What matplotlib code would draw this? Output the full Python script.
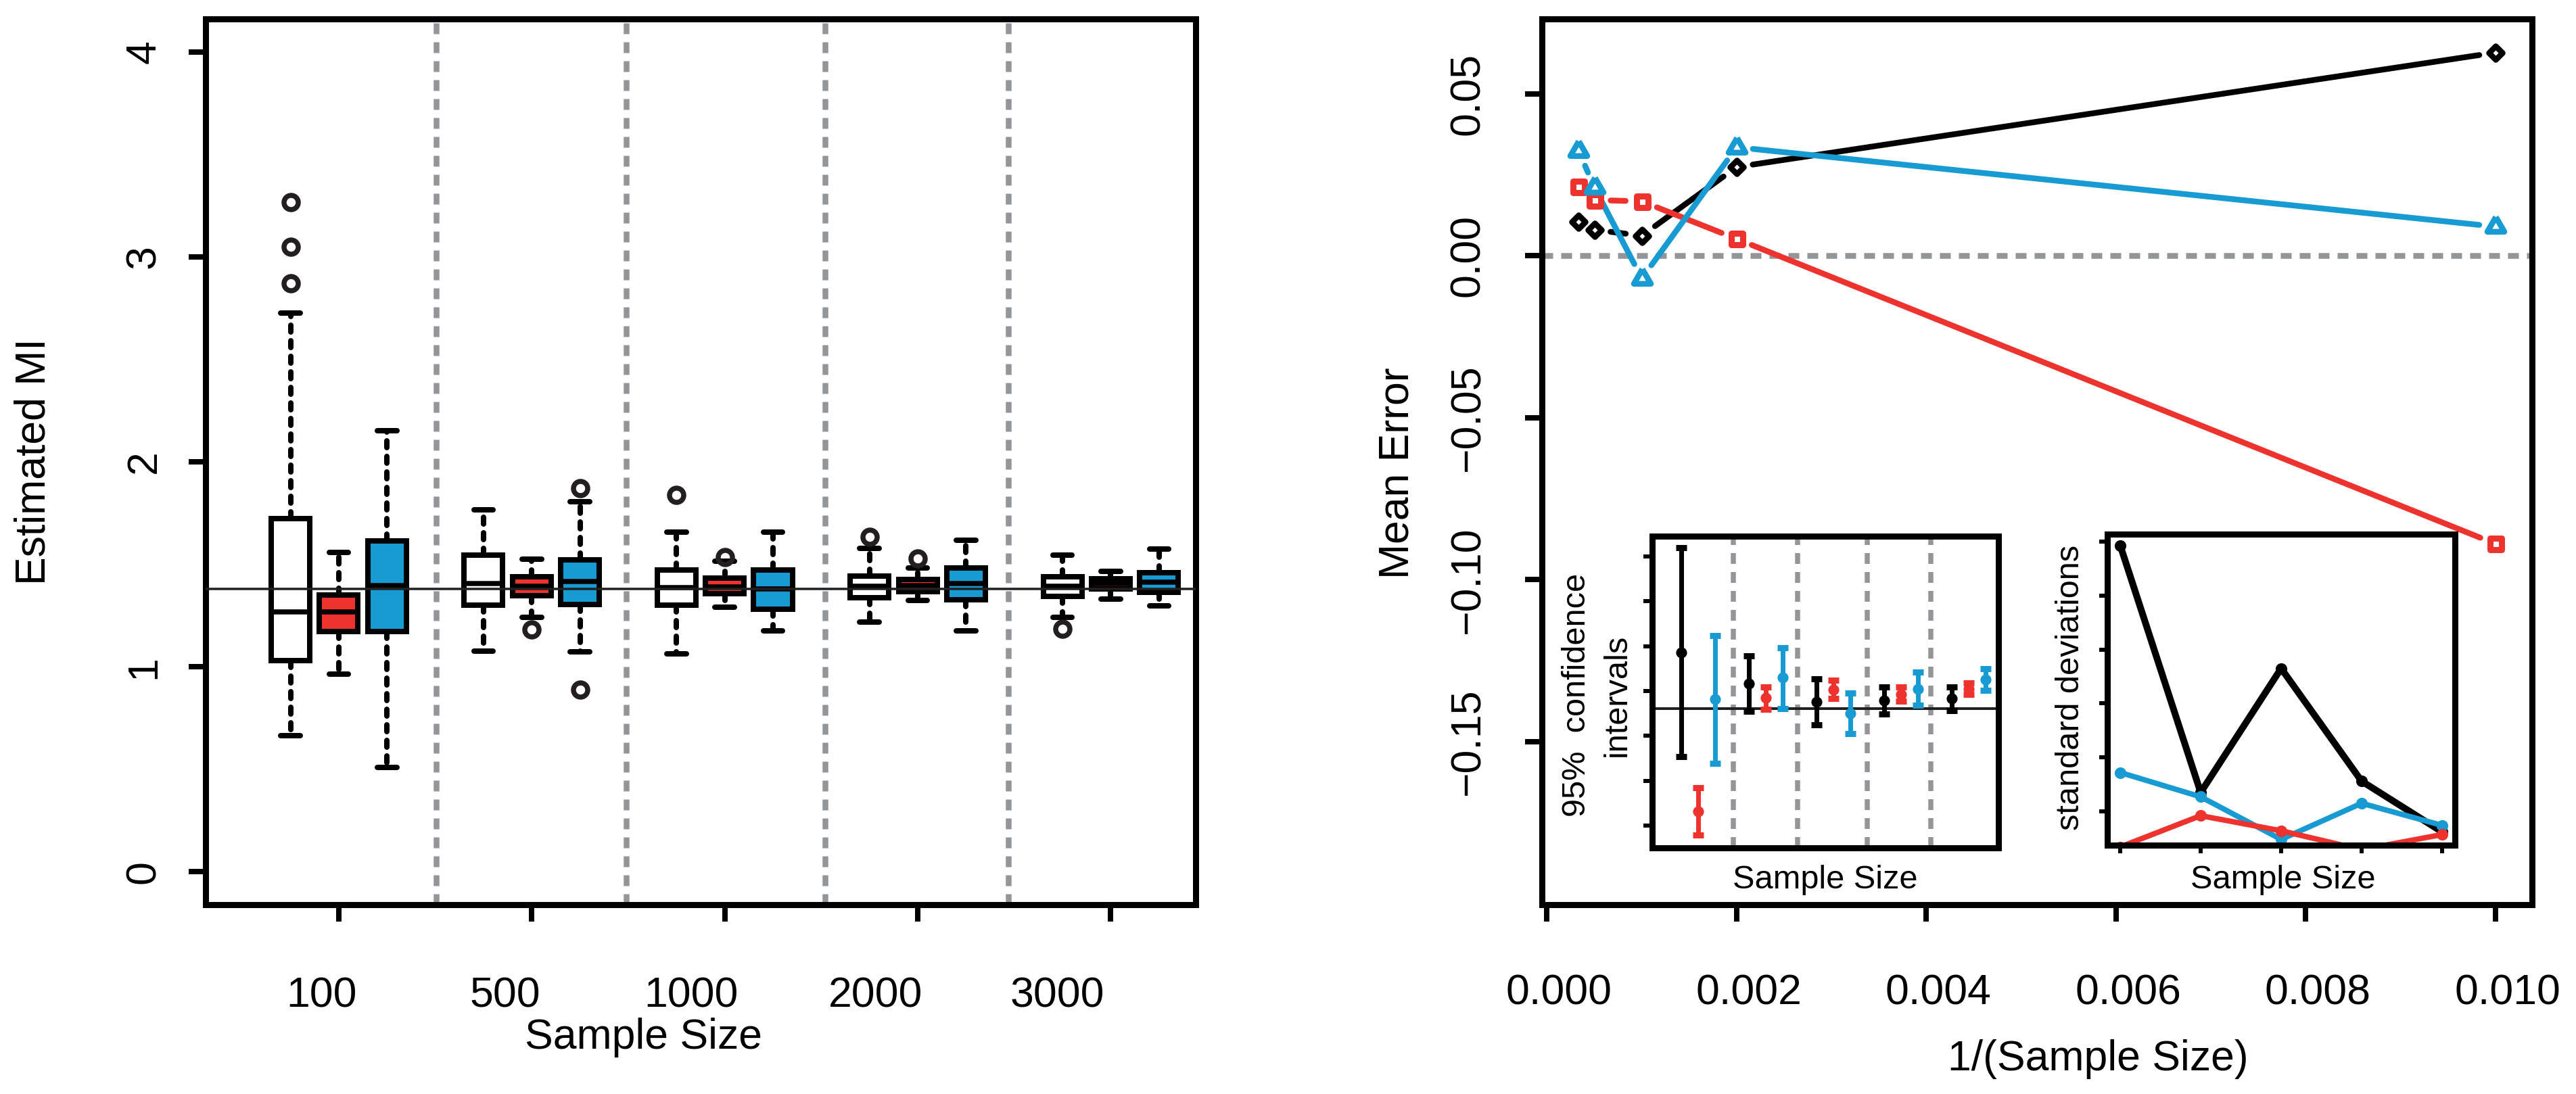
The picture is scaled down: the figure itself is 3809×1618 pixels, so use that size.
import numpy as np
import matplotlib
matplotlib.use("Agg")
import matplotlib.pyplot as plt
from matplotlib.markers import MarkerStyle
from matplotlib.transforms import offset_copy, blended_transform_factory

plt.rcParams['font.family'] = ['Liberation Sans', 'DejaVu Sans']
plt.rcParams['lines.scale_dashes'] = False

# ---------------------------------------------------------------- data
sample_sizes = [100, 500, 1000, 2000, 3000]
size_labels = ["100", "500", "1000", "2000", "3000"]
TRUE_MI = 1.38

# Left panel: boxplot statistics for the three estimators (white / red / blue)
white_q1 = [1.030, 1.302, 1.302, 1.336, 1.343]
white_med = [1.268, 1.406, 1.387, 1.393, 1.393]
white_q3 = [1.722, 1.544, 1.471, 1.442, 1.439]
white_lo = [0.664, 1.078, 1.064, 1.218, 1.241]
white_hi = [2.726, 1.765, 1.656, 1.578, 1.544]
white_out = [[3.265, 3.049, 2.870], [], [1.838], [1.634], [1.185]]

red_q1 = [1.172, 1.347, 1.358, 1.368, 1.380]
red_med = [1.268, 1.393, 1.390, 1.398, 1.405]
red_q3 = [1.352, 1.439, 1.432, 1.427, 1.429]
red_lo = [0.963, 1.241, 1.291, 1.324, 1.331]
red_hi = [1.557, 1.525, 1.515, 1.483, 1.465]
red_out = [[], [1.182], [1.534], [1.528], []]

blue_q1 = [1.171, 1.304, 1.280, 1.328, 1.363]
blue_med = [1.397, 1.417, 1.380, 1.406, 1.413]
blue_q3 = [1.615, 1.522, 1.472, 1.483, 1.459]
blue_lo = [0.509, 1.074, 1.174, 1.177, 1.299]
blue_hi = [2.152, 1.806, 1.656, 1.618, 1.574]
blue_out = [[], [1.872, 0.890], [], [], []]

# Right panel: mean error per sample size (order of sample_sizes)
black_err = [0.0627, 0.0274, 0.0062, 0.0080, 0.0104]
red_err = [-0.0889, 0.0052, 0.0168, 0.0172, 0.0214]
blue_err = [0.0090, 0.0335, -0.0070, 0.0211, 0.0324]

# Inset 1: means and 95% confidence intervals (order of sample_sizes)
ci_white_mean = [1.4431, 1.4084, 1.3881, 1.3897, 1.3916]
ci_white_lo = [1.3266, 1.3775, 1.3625, 1.3744, 1.3781]
ci_white_hi = [1.5594, 1.4391, 1.4134, 1.4041, 1.4047]
ci_red_mean = [1.2656, 1.3922, 1.4016, 1.3963, 1.4022]
ci_red_lo = [1.2391, 1.3797, 1.3913, 1.3884, 1.3959]
ci_red_hi = [1.2922, 1.4047, 1.4119, 1.4047, 1.4088]
ci_blue_mean = [1.3906, 1.4147, 1.3750, 1.4025, 1.4125]
ci_blue_lo = [1.3194, 1.3803, 1.3522, 1.3844, 1.4009]
ci_blue_hi = [1.4616, 1.4484, 1.3975, 1.4209, 1.4244]

# Inset 2: standard deviations (order of sample_sizes)
sd_white = [0.593, 0.135, 0.365, 0.156, 0.062]
sd_red = [0.034, 0.092, 0.064, 0.029, 0.057]
sd_blue = [0.172, 0.127, 0.048, 0.115, 0.074]

# ---------------------------------------------------------------- style
W, H, DPI = 3809, 1618, 300
RED = '#EE332F'
BLUE = '#189BD3'
GRAY = '#939598'
DARK = '#231F20'
FS = 15
FS_IN = 11.7


def px(n):
    return n * 72.0 / DPI


LW = px(8.5)
DASH = (0, (px(16), px(12)))

fig = plt.figure(figsize=(W / DPI, H / DPI), dpi=DPI)
fig.patch.set_facecolor('white')


def frac_rect(x0, y0, x1, y1):
    return [x0 / W, 1 - y1 / H, (x1 - x0) / W, (y1 - y0) / H]


def fig_text(x, y, s, **kw):
    fig.text(x / W, 1 - y / H, s, ha='center', va='center', **kw)


def style_axes(ax, lw=px(9)):
    for sp in ax.spines.values():
        sp.set_linewidth(lw)
        sp.set_color('black')
        sp.set_capstyle('projecting')


axL = fig.add_axes(frac_rect(304, 28, 1768, 1338))
axR = fig.add_axes(frac_rect(2280, 28, 3744, 1338))
axI1 = fig.add_axes(frac_rect(2443, 793, 2955, 1254))
axI2 = fig.add_axes(frac_rect(3116, 790, 3630, 1250))

# ---------------------------------------------------------------- left panel
style_axes(axL)
axL.set_xlim(-0.76, 19.76)
axL.set_ylim(-0.16, 4.16)

groups = [
    (white_q1, white_med, white_q3, white_lo, white_hi, white_out, 'white'),
    (red_q1, red_med, red_q3, red_lo, red_hi, red_out, RED),
    (blue_q1, blue_med, blue_q3, blue_lo, blue_hi, blue_out, BLUE),
]
for m, (q1, med, q3, lo, hi, out, fc) in enumerate(groups):
    stats = [dict(q1=a, med=b, q3=c, whislo=d, whishi=e, fliers=f)
             for a, b, c, d, e, f in zip(q1, med, q3, lo, hi, out)]
    pos = [4 * g + m + 1 for g in range(len(sample_sizes))]
    axL.bxp(stats, positions=pos, widths=0.8, capwidths=0.4,
            patch_artist=True, manage_ticks=False,
            boxprops=dict(facecolor=fc, edgecolor='black', linewidth=px(8)),
            medianprops=dict(color='black', linewidth=px(7.5), solid_capstyle='butt'),
            whiskerprops=dict(color='black', linewidth=px(8),
                              linestyle=(0, (px(10), px(13))), dash_capstyle='round'),
            capprops=dict(color='black', linewidth=px(8), solid_capstyle='round'),
            flierprops=dict(marker='o', markerfacecolor='none', markeredgecolor=DARK,
                            markersize=px(21), markeredgewidth=px(7.5)))

for xs in [4.02, 7.96, 12.08, 15.88]:
    axL.axvline(xs, color=GRAY, lw=px(8.5), linestyle=DASH, zorder=1)
axL.axhline(TRUE_MI, color=DARK, lw=px(3.5), zorder=6)

tick_pos_L = [4 * g + 2 for g in range(len(sample_sizes))]
axL.set_xticks(tick_pos_L)
axL.set_yticks([0, 1, 2, 3, 4])
axL.tick_params(direction='out', length=px(25), width=px(8),
                labelbottom=False, labelleft=False)

transL_x = blended_transform_factory(axL.transData, axL.transAxes)
for p, lab, sh in zip(tick_pos_L, size_labels, [-25, -40, -50, -62, -79]):
    axL.text(p, 0, lab, fontsize=FS, ha='center', va='center', clip_on=False,
             transform=offset_copy(transL_x, fig=fig, x=sh, y=-135, units='dots'))
transL_y = blended_transform_factory(axL.transAxes, axL.transData)
for v in [0, 1, 2, 3, 4]:
    axL.text(0, v, str(v), fontsize=FS, ha='center', va='center', rotation=90,
             clip_on=False,
             transform=offset_copy(transL_y, fig=fig, x=-91, y=0, units='dots'))

fig_text(50, 683, "Estimated MI", fontsize=FS, rotation=90)
fig_text(951, 1534, "Sample Size", fontsize=FS)

# ---------------------------------------------------------------- right panel
style_axes(axR)
inv_n = 1.0 / np.array(sample_sizes, dtype=float)
axR.set_xlim(-0.0000533, 0.0103867)
axR.set_ylim(-0.2003, 0.0731)
axR.axhline(0, color=GRAY, lw=px(8.5), linestyle=DASH, zorder=1)


def type_b(ax, xs, ys, color, gap=24, lw=LW, zorder=3):
    order = np.argsort(xs)
    pts = ax.transData.transform(np.column_stack([np.asarray(xs)[order],
                                                  np.asarray(ys)[order]]))
    inv = ax.transData.inverted()
    for p0, p1 in zip(pts[:-1], pts[1:]):
        d = p1 - p0
        L = np.hypot(d[0], d[1])
        if L <= 2 * gap:
            continue
        u = d / L
        seg = inv.transform(np.array([p0 + u * gap, p1 - u * gap]))
        ax.plot(seg[:, 0], seg[:, 1], color=color, lw=lw,
                solid_capstyle='round', zorder=zorder)


tri = MarkerStyle([(0, 1.5551), (1.3468, -0.7776), (-1.3468, -0.7776), (0, 1.5551)],
                  fillstyle='none', joinstyle='round')
dia = MarkerStyle('D', fillstyle='none', joinstyle='round')
sq = MarkerStyle('s', fillstyle='none', joinstyle='round')

series = [(black_err, 'black', dia, px(14.5), px(8.5)),
          (red_err, RED, sq, px(17), px(9)),
          (blue_err, BLUE, tri, px(29), px(8.5))]
for ys, col, mk, ms, mew in series:
    type_b(axR, inv_n, ys, col)
    axR.plot(inv_n, ys, linestyle='none', marker=mk, markersize=ms,
             markeredgewidth=mew, color=col, markerfacecolor='none', zorder=4)

xt_R = [0.000, 0.002, 0.004, 0.006, 0.008, 0.010]
yt_R = [0.05, 0.00, -0.05, -0.10, -0.15]
axR.set_xticks(xt_R)
axR.set_yticks(yt_R)
axR.tick_params(direction='out', length=px(25), width=px(8),
                labelbottom=False, labelleft=False)
transR_x = blended_transform_factory(axR.transData, axR.transAxes)
for v in xt_R:
    axR.text(v, 0, f"{v:.3f}", fontsize=FS, ha='center', va='center', clip_on=False,
             transform=offset_copy(transR_x, fig=fig, x=18, y=-131, units='dots'))
transR_y = blended_transform_factory(axR.transAxes, axR.transData)
for v in yt_R:
    lab = f"{v:.2f}".replace('-', '\u2212')
    axR.text(0, v, lab, fontsize=FS, ha='center', va='center', rotation=90,
             clip_on=False,
             transform=offset_copy(transR_y, fig=fig, x=-109, y=0, units='dots'))

fig_text(2066, 700, "Mean Error", fontsize=FS, rotation=90)
fig_text(3102, 1567, "1/(Sample Size)", fontsize=FS)

# ---------------------------------------------------------------- inset 1 (CIs)
style_axes(axI1, lw=px(9))
axI1.set_xlim(0.3225, 5.444)
axI1.set_ylim(1.225, 1.5725)
for xs in [1.526, 2.474, 3.504, 4.442]:
    axI1.axvline(xs, color=GRAY, lw=px(7.5), linestyle=DASH, zorder=1)
axI1.axhline(TRUE_MI, color=DARK, lw=px(4), zorder=2)
grp = np.arange(1, len(sample_sizes) + 1)
ci_sets = [(ci_white_mean, ci_white_lo, ci_white_hi, 'black', -0.25),
           (ci_red_mean, ci_red_lo, ci_red_hi, RED, 0.0),
           (ci_blue_mean, ci_blue_lo, ci_blue_hi, BLUE, 0.25)]
for mean, lo, hi, col, off in ci_sets:
    mean = np.array(mean)
    axI1.errorbar(grp + off, mean, yerr=[mean - np.array(lo), np.array(hi) - mean],
                  fmt='o', color=col, markersize=px(12), elinewidth=px(7),
                  capsize=px(8), capthick=px(9), zorder=3)
axI1.set_xticks([])
axI1.set_yticks([1.25, 1.30, 1.35, 1.40, 1.45, 1.50, 1.55])
axI1.tick_params(axis='y', direction='out', length=px(13), width=px(6),
                 labelleft=False)

fig_text(2331, 1028, "95%  confidence", fontsize=FS_IN, rotation=90)
fig_text(2391, 1028, "intervals", fontsize=FS_IN, rotation=90)
fig_text(2699, 1302, "Sample Size", fontsize=FS_IN)

# ---------------------------------------------------------------- inset 2 (SDs)
style_axes(axI2, lw=px(9))
axI2.set_xlim(0.84, 5.16)
axI2.set_ylim(0.0373, 0.6138)
for ys, col, lw in [(sd_white, 'black', px(10)), (sd_blue, BLUE, px(8)), (sd_red, RED, px(8))]:
    axI2.plot(grp, ys, color=col, lw=lw, marker='o', markersize=px(13),
              solid_capstyle='round', solid_joinstyle='round')
axI2.set_xticks(grp)
axI2.set_yticks([0.1, 0.2, 0.3, 0.4, 0.5, 0.6])
axI2.tick_params(direction='out', length=px(12), width=px(6),
                 labelleft=False, labelbottom=False)

fig_text(3062, 1017, "standard deviations", fontsize=FS_IN, rotation=90)
fig_text(3376, 1302, "Sample Size", fontsize=FS_IN)

fig.savefig("out.png", dpi=DPI, facecolor='white')
